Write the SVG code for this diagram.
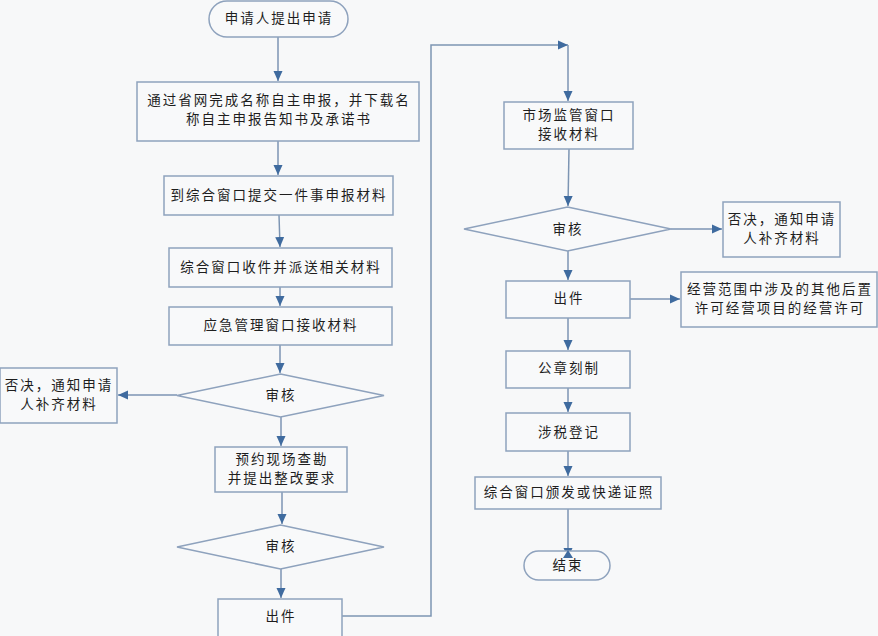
<svg xmlns="http://www.w3.org/2000/svg" width="878" height="636" viewBox="0 0 878 636">
<defs>
<style>
.n{fill:#f8f9fa;stroke:#8ea2bd;stroke-width:1.5}
.t{font-family:"Noto Sans CJK SC","Noto Sans CJK JP",sans-serif;font-size:13.5px;fill:#1e1e1e;text-anchor:middle;letter-spacing:2px}
.c{fill:none;stroke:#7d95b3;stroke-width:1.5}
</style>
<marker id="ah" markerUnits="userSpaceOnUse" markerWidth="10" markerHeight="10" viewBox="0 0 10 10" refX="10" refY="5" orient="auto">
<path d="M0,0.5 L10,5 L0,9.5 Z" fill="#3f6b9f"/>
</marker>
</defs>
<rect width="878" height="636" fill="#f7f8f9"/>
<g id="connectors">
<path class="c" d="M278,37 V81" marker-end="url(#ah)"/>
<path class="c" d="M278,141 V175" marker-end="url(#ah)"/>
<path class="c" d="M279,215 L280,247" marker-end="url(#ah)"/>
<path class="c" d="M280,287 V306" marker-end="url(#ah)"/>
<path class="c" d="M280,345 V373" marker-end="url(#ah)"/>
<path class="c" d="M177,395 H118" marker-end="url(#ah)"/>
<path class="c" d="M281,417 V446" marker-end="url(#ah)"/>
<path class="c" d="M282,492 V524" marker-end="url(#ah)"/>
<path class="c" d="M281,569 V598" marker-end="url(#ah)"/>
<path class="c" d="M342,616 H431 V45 H568" marker-end="url(#ah)"/>
<path class="c" d="M568,45 V101" marker-end="url(#ah)"/>
<path class="c" d="M569,149 L568,206" marker-end="url(#ah)"/>
<path class="c" d="M671,229 H722" marker-end="url(#ah)"/>
<path class="c" d="M568,251 V280" marker-end="url(#ah)"/>
<path class="c" d="M630,299 H680" marker-end="url(#ah)"/>
<path class="c" d="M568,318 V350" marker-end="url(#ah)"/>
<path class="c" d="M568,388 V412" marker-end="url(#ah)"/>
<path class="c" d="M568,451 V476" marker-end="url(#ah)"/>
<path class="c" d="M568,509 V558" marker-end="url(#ah)"/>
</g>
<g id="start"><rect class="n" x="209" y="1" width="139" height="36" rx="18"/><text class="t" x="279" y="23">申请人提出申请</text></g>
<g id="n1"><rect class="n" x="137" y="82" width="282" height="59"/><text class="t" x="279" y="105">通过省网完成名称自主申报，并下载名</text><text class="t" x="279" y="124">称自主申报告知书及承诺书</text></g>
<g id="n2"><rect class="n" x="164" y="176" width="229" height="39"/><text class="t" x="279" y="200">到综合窗口提交一件事申报材料</text></g>
<g id="n3"><rect class="n" x="169" y="248" width="223" height="39"/><text class="t" x="281" y="272">综合窗口收件并派送相关材料</text></g>
<g id="n4"><rect class="n" x="169" y="307" width="223" height="38"/><text class="t" x="281" y="330">应急管理窗口接收材料</text></g>
<g id="d1"><path class="n" d="M280.5,374 L384,395.5 L280.5,417 L177,395.5 Z"/><text class="t" x="281" y="400">审核</text></g>
<g id="r1"><rect class="n" x="0" y="368" width="117" height="55"/><text class="t" x="59" y="390">否决，通知申请</text><text class="t" x="59" y="409">人补齐材料</text></g>
<g id="n5"><rect class="n" x="215" y="447" width="132" height="45"/><text class="t" x="282" y="464">预约现场查勘</text><text class="t" x="282" y="483">并提出整改要求</text></g>
<g id="d2"><path class="n" d="M280.5,525 L384,547 L280.5,569 L177,547 Z"/><text class="t" x="281" y="551">审核</text></g>
<g id="n6"><rect class="n" x="218" y="599" width="124" height="40"/><text class="t" x="281" y="621">出件</text></g>
<g id="n7"><rect class="n" x="504" y="102" width="129" height="47"/><text class="t" x="569" y="120">市场监管窗口</text><text class="t" x="569" y="139">接收材料</text></g>
<g id="d3"><path class="n" d="M567.5,207 L671,229 L567.5,251 L464,229 Z"/><text class="t" x="568" y="234">审核</text></g>
<g id="r2"><rect class="n" x="723" y="202" width="117" height="55"/><text class="t" x="782" y="224">否决，通知申请</text><text class="t" x="782" y="243">人补齐材料</text></g>
<g id="n8"><rect class="n" x="506" y="281" width="124" height="37"/><text class="t" x="569" y="303">出件</text></g>
<g id="r3"><rect class="n" x="681" y="272" width="196" height="55"/><text class="t" x="780" y="294">经营范围中涉及的其他后置</text><text class="t" x="780" y="313">许可经营项目的经营许可</text></g>
<g id="n9"><rect class="n" x="506" y="351" width="124" height="37"/><text class="t" x="569" y="373">公章刻制</text></g>
<g id="n10"><rect class="n" x="506" y="413" width="124" height="38"/><text class="t" x="569" y="437">涉税登记</text></g>
<g id="n11"><rect class="n" x="475" y="477" width="186" height="32"/><text class="t" x="569" y="497">综合窗口颁发或快递证照</text></g>
<g id="end"><rect class="n" x="524" y="551" width="86" height="29" rx="14.5"/><text class="t" x="568" y="570">结束</text></g>
<path d="M568,550 L563,558 L573,558 Z" fill="#3f6b9f"/>
</svg>
